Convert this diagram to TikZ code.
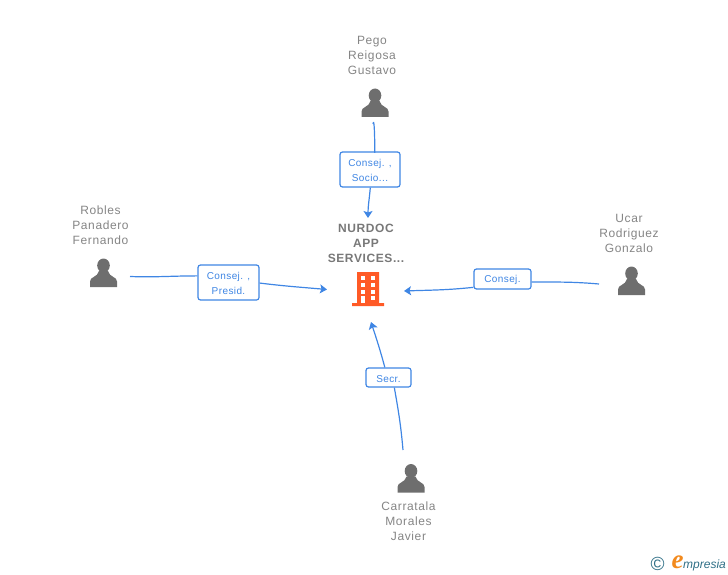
\documentclass[tikz,border=0pt]{standalone}
\usepackage{fontspec}
\setmainfont{Liberation Sans}
\newfontfamily\namefont[LetterSpace=5]{Liberation Sans}
\newfontfamily\rolefont[LetterSpace=4]{Liberation Sans}
\newfontfamily\logofont{Liberation Serif}
\usetikzlibrary{arrows.meta}
\definecolor{linkblue}{HTML}{3F86E4}
\definecolor{namegray}{HTML}{858585}
\definecolor{icongray}{HTML}{6E6E6E}
\definecolor{towerorange}{HTML}{FF5A26}
\definecolor{logoteal}{HTML}{2F6F86}
\definecolor{logoorange}{HTML}{F28A1E}
\newcommand{\rolestrut}{\rule{0pt}{9.2pt}}

\begin{document}
\begin{tikzpicture}[x=1pt,y=-1pt,
            person/.style={font=\namefont\fontsize{12}{15}\selectfont,text=namegray,align=center,inner sep=0pt},
            company/.style={font=\namefont\bfseries\fontsize{12}{15}\selectfont,text=namegray!90!black,align=center,inner sep=0pt},
            role/.style={draw=linkblue,fill=white,line width=1.2pt,rounded corners=2.5pt,inner sep=0pt,text=linkblue,
                font=\rolefont\fontsize{10}{15}\selectfont,align=center},
            link/.style={draw=linkblue,line width=1.2pt},
            linkarrow/.style={link,-{Stealth[length=7pt,width=9pt,inset=1.5pt]}},
            pics/personicon/.style={code={
                \fill[icongray] (0,-7.5) ellipse (6.3 and 7);
                \fill[icongray] (-13.5,14) -- (-13.5,8.5) .. controls (-13.5,3.5) and (-6,4.5) .. (-4.5,-2) -- (4.5,-2)
                    .. controls (6,4.5) and (13.5,3.5) .. (13.5,8.5) -- (13.5,14) -- cycle;
            }}]
        \useasboundingbox (0,0) rectangle (728,575);
        % people
        \node[person] (pego) at (372,55) {Pego\\Reigosa\\Gustavo};
        \node[person] (robles) at (100.5,225) {Robles\\Panadero\\Fernando};
        \node[person] (ucar) at (629,233) {Ucar\\Rodriguez\\Gonzalo};
        \node[person] (carratala) at (408.5,521) {Carratala\\Morales\\Javier};
        \pic at (375,103) {personicon};
        \pic at (103.5,273) {personicon};
        \pic at (631.5,281) {personicon};
        \pic at (411,478.5) {personicon};
        % company
        \node[company] (nurdoc) at (366,243) {NURDOC\\APP\\SERVICES...};
        \fill[towerorange] (357,272) rectangle (379,303) (352,303) rectangle (384,306);
        \foreach \y in {276,283,290} {
            \fill[white] (361,\y) rectangle +(4,4);
            \fill[white] (371,\y) rectangle +(4,4);
        }
        \fill[white] (361,296) rectangle (365,303);
        \fill[white] (371,296) rectangle (375,300);
        % roles
        \node[role,minimum width=60pt,minimum height=35pt] (consejsocio) at (370,169.5) {\rolestrut Consej. ,\\Socio...};
        \node[role,minimum width=61pt,minimum height=35pt] (consejpresid) at (228.5,282.5) {\rolestrut Consej. ,\\Presid.};
        \node[role,minimum width=57pt,minimum height=20pt] (consej) at (502.5,279) {\rolestrut Consej.};
        \node[role,minimum width=45pt,minimum height=19pt] (secr) at (388.5,377.5) {\rolestrut Secr.};
        % free ends
        \coordinate (pegoend) at (373,124);
        \coordinate (roblesend) at (130,276.5);
        \coordinate (ucarend) at (599,284);
        \coordinate (carratalaend) at (403,450);
        \coordinate (topin) at (368,218);
        \coordinate (leftin) at (327,289.5);
        \coordinate (rightin) at (404,291);
        \coordinate (bottomin) at (371,322);
        % connectors
        \draw[link] (pegoend) to[out=80,in=-90] (consejsocio.75);
        \draw[linkarrow] (consejsocio.-89) to[out=-95,in=90] (topin);
        \draw[link] (roblesend) to[out=-2,in=180] (consejpresid.168);
        \draw[linkarrow] (consejpresid.-1) to[out=-7,in=175] (leftin);
        \draw[link] (ucarend) to[out=175,in=0] (consej.-6);
        \draw[linkarrow] (consej.196) to[out=186,in=2] (rightin);
        \draw[link] (carratalaend) to[out=95,in=-80] (secr.-60);
        \draw[linkarrow] (secr.110) to[out=105,in=-72] (bottomin);
        % logo
        \node[inner sep=0pt,text=logoteal,font=\fontsize{19}{19}\selectfont] (copyrightmark) at (657.5,564) {\textcopyright};
        \node[inner sep=0pt,text=logoorange,font=\logofont\bfseries\itshape\fontsize{27}{27}\selectfont] (logoe) at (677.5,562) {e};
        \node[inner sep=0pt,text=logoteal,font=\itshape\fontsize{12}{13}\selectfont,anchor=base west] (logotext) at (683,568) {mpresia};
    \end{tikzpicture}
\end{document}
